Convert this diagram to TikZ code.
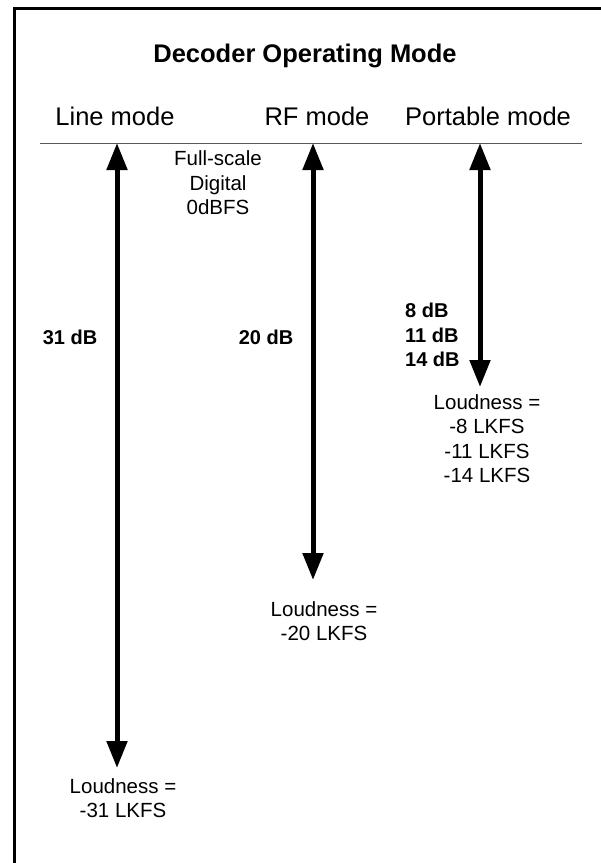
\documentclass[tikz,border=0pt]{standalone}
\usepackage{fontspec}
\setmainfont{Liberation Sans}
\usetikzlibrary{arrows.meta,positioning}
\tikzset{
  ttl/.style  = {font=\fontsize{25.5}{30}\selectfont\bfseries, inner sep=0pt, anchor=base},
  hdr/.style  = {font=\fontsize{25.5}{30}\selectfont, inner sep=0pt, anchor=base},
  lbl/.style  = {font=\fontsize{20.5}{24.5}\selectfont, align=center, inner sep=0pt},
  num/.style  = {font=\fontsize{20}{24.5}\selectfont\bfseries, align=left, inner sep=0pt},
  rng/.style  = {{Triangle[length=27pt,width=20pt]}-{Triangle[length=27pt,width=20pt]},
                 line width=5pt},
  rule/.style = {line width=1pt, black!65}
}
\begin{document}
\begin{tikzpicture}[x=1pt, y=-1pt]
\useasboundingbox (0,0) rectangle (601,863);
% ---- frame ----
\draw[line width=3pt] (14,8) rectangle (640,900);

% ---- headings ----
\node[ttl] (title) at (305,62) {Decoder Operating Mode};
\node[hdr] (hline) at (115,125) {Line mode};
\node[hdr] (hrf)   at (317,125) {RF mode};
\node[hdr] (hport) at (488,125) {Portable mode};
\coordinate (ruleL) at (40,143);
\coordinate (ruleR) at (582,143);
\draw[rule] (ruleL) -- (ruleR);

% ---- ranges ----
\coordinate (lineTop) at (117,143);
\coordinate (lineBot) at (117,768);
\coordinate (rfTop)   at (313,143);
\coordinate (rfBot)   at (313,580);
\coordinate (portTop) at (480,143);
\coordinate (portBot) at (480,387);
\draw[rng] (lineBot) -- (lineTop);
\draw[rng] (rfBot) -- (rfTop);
\draw[rng] (portBot) -- (portTop);

% ---- labels ----
\node[lbl] (fs) at (218,183) {Full-scale\\Digital\\0dBFS};
\node[num] (db31) at (70,337) {31 dB};
\node[num] (db20) at (266,337) {20 dB};
\node[num, anchor=west] (dbport) at (405,335) {8 dB\\11 dB\\14 dB};
\node[lbl] (ldport) at (487,438.5) {Loudness =\\-8 LKFS\\-11 LKFS\\-14 LKFS};
\node[lbl] (ldrf)   at (324,621) {Loudness =\\-20 LKFS};
\node[lbl] (ldline) at (123,798) {Loudness =\\-31 LKFS};
\end{tikzpicture}
\end{document}
